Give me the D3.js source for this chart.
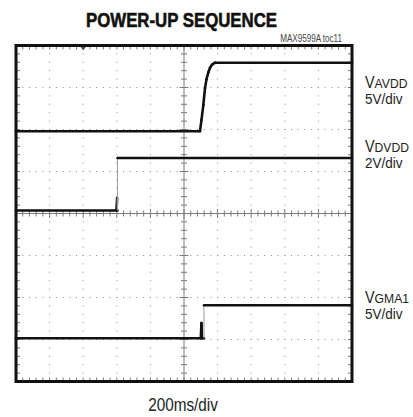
<!DOCTYPE html>
<html>
<head>
<meta charset="utf-8">
<script src="https://cdn.jsdelivr.net/npm/d3@7"></script>
<style>
  body { margin: 0; background: #fff; }
  svg text { font-family: "Liberation Sans", Arial, sans-serif; fill: #222; }
</style>
</head>
<body>
<svg width="413" height="417"></svg>
<script>

// time base: 10 div x 200ms
var timeDomain = [0, 2000];

// channel definitions (offset in divisions from centre, volts per division)
var channelNames = ["AVDD", "DVDD", "GMA1"];
var channelScales = [5, 2, 5];
var channelOffsets = [1.96, 0.07, -2.97];
var channelUnits = ["5V/div", "2V/div", "5V/div"];

// traces: [time ms, volts]
var avddTrace = [[0, 0], [1095, 0], [1104, 1.31], [1115, 3.1], [1125, 5.12], [1134, 6.19],
                 [1145, 7.02], [1155, 7.56], [1167, 7.92], [1185, 8.15], [2000, 8.15]];
var dvddTrace = [[0, 0], [598, 0], [602, 0.6], [603, 0], [604, 0], [604, 2.5], [2000, 2.5]];
var gma1Trace = [[0, 0], [1100, 0], [1104, 1.8], [1107, 0], [1119, 0], [1119, 3.93], [2000, 3.93]];

var traces = [avddTrace, dvddTrace, gma1Trace];

var svg = d3.select("svg"),
    margin = {top: 45.5, right: 61, bottom: 35.5, left: 16},
    width = +svg.attr("width") - margin.left - margin.right,
    height = +svg.attr("height") - margin.top - margin.bottom;

var x = d3.scaleLinear().domain(timeDomain).range([0, width]),
    xDiv = d3.scaleLinear().domain([0, 10]).range([0, width]),
    y = d3.scaleLinear().domain([-4, 4]).range([height, 0]);

var g = svg.append("g")
    .attr("transform", "translate(" + margin.left + "," + margin.top + ")");

var grid = g.append("g").attr("class", "grid");

// dotted graticule: dots at each minor step along each major line
d3.range(1, 10).forEach(function(i) {
    if (i === 5) return;
    d3.range(0, 41).forEach(function(j) {
        grid.append("rect")
            .attr("x", xDiv(i) - 0.5).attr("y", y(-4 + j * 0.2) - 0.5)
            .attr("width", 1).attr("height", 1)
            .attr("fill", "#8a8a8a");
    });
});
d3.range(1, 8).forEach(function(i) {
    if (i === 4) return;
    d3.range(0, 51).forEach(function(j) {
        grid.append("rect")
            .attr("x", xDiv(j * 0.2) - 0.5).attr("y", y(-4 + i) - 0.5)
            .attr("width", 1).attr("height", 1)
            .attr("fill", "#8a8a8a");
    });
});

// centre cross with minor ticks
grid.append("line")
    .attr("x1", 0).attr("x2", width)
    .attr("y1", y(0)).attr("y2", y(0))
    .attr("stroke", "#7a7a7a").attr("stroke-width", 1);
grid.append("line")
    .attr("x1", xDiv(5)).attr("x2", xDiv(5))
    .attr("y1", 0).attr("y2", height)
    .attr("stroke", "#7a7a7a").attr("stroke-width", 1);

d3.range(1, 50).forEach(function(j) {
    var len = (j % 5 === 0) ? 4.5 : 3;
    grid.append("line")
        .attr("x1", xDiv(j * 0.2)).attr("x2", xDiv(j * 0.2))
        .attr("y1", y(0) - len).attr("y2", y(0) + len)
        .attr("stroke", "#7a7a7a");
    // top & bottom edge ticks
    grid.append("line")
        .attr("x1", xDiv(j * 0.2)).attr("x2", xDiv(j * 0.2))
        .attr("y1", 0).attr("y2", 4)
        .attr("stroke", "#7a7a7a");
    grid.append("line")
        .attr("x1", xDiv(j * 0.2)).attr("x2", xDiv(j * 0.2))
        .attr("y1", height - 4).attr("y2", height)
        .attr("stroke", "#7a7a7a");
});
d3.range(1, 40).forEach(function(j) {
    var v = -4 + j * 0.2;
    var len = (j % 5 === 0) ? 4.5 : 3;
    grid.append("line")
        .attr("x1", xDiv(5) - len).attr("x2", xDiv(5) + len)
        .attr("y1", y(v)).attr("y2", y(v))
        .attr("stroke", "#7a7a7a");
    grid.append("line")
        .attr("x1", 0).attr("x2", 4)
        .attr("y1", y(v)).attr("y2", y(v))
        .attr("stroke", "#7a7a7a");
    grid.append("line")
        .attr("x1", width - 4).attr("x2", width)
        .attr("y1", y(v)).attr("y2", y(v))
        .attr("stroke", "#7a7a7a");
});

// trigger position marker
grid.append("path")
    .attr("d", "M" + (x(400) - 3) + ",1L" + (x(400) + 3) + ",1L" + x(400) + ",5Z")
    .attr("fill", "#555");

// traces
traces.forEach(function(data, c) {
    var yc = function(d) { return y(channelOffsets[c] + d[1] / channelScales[c]); };
    var line = d3.line()
        .x(function(d) { return x(d[0]); })
        .y(yc);

    // split fast edges (thin grey) from the rest (thick black)
    for (var i = 0; i < data.length - 1; i++) {
        var a = data[i], b = data[i + 1];
        var fast = Math.abs(x(b[0]) - x(a[0])) < 0.5 && Math.abs(yc(b) - yc(a)) > 0.5;
        g.append("path")
            .datum([a, b])
            .attr("d", line)
            .attr("fill", "none")
            .attr("stroke", fast ? "#9a9a9a" : "#111")
            .attr("stroke-width", fast ? 1 : 2.6)
            .attr("stroke-linecap", fast ? "butt" : "round");
    }
});

// frame
g.append("rect")
    .attr("width", width).attr("height", height)
    .attr("fill", "none")
    .attr("stroke", "#111")
    .attr("stroke-width", 3);

// condensed text: regular font squeezed horizontally
function narrowText(px, py, sx) {
    return svg.append("text")
        .attr("transform", "translate(" + px + "," + py + ") scale(" + sx + ",1)");
}

// title + tag
narrowText(181.5, 27, 0.8)
    .attr("text-anchor", "middle")
    .style("font-size", "21px").style("font-weight", "bold")
    .style("fill", "#111")
    .style("stroke", "#111").style("stroke-width", 0.6)
    .text("POWER-UP SEQUENCE");

narrowText(342, 41.5, 0.81)
    .attr("text-anchor", "end")
    .style("font-size", "10px")
    .style("fill", "#444")
    .text("MAX9599A toc11");

// channel labels on the right
var labelY = [88, 152, 303];
channelNames.forEach(function(name, c) {
    var t = narrowText(365, labelY[c], 0.9);
    t.append("tspan").style("font-size", "16px").text("V");
    t.append("tspan").style("font-size", "13.5px").text(name);
    t.append("tspan")
        .attr("x", 0).attr("dy", 16.5)
        .style("font-size", "15px")
        .text(channelUnits[c]);
});

// time base label
narrowText(183, 411, 0.85)
    .attr("text-anchor", "middle")
    .style("font-size", "18px")
    .text("200ms/div");

</script>
</body>
</html>
